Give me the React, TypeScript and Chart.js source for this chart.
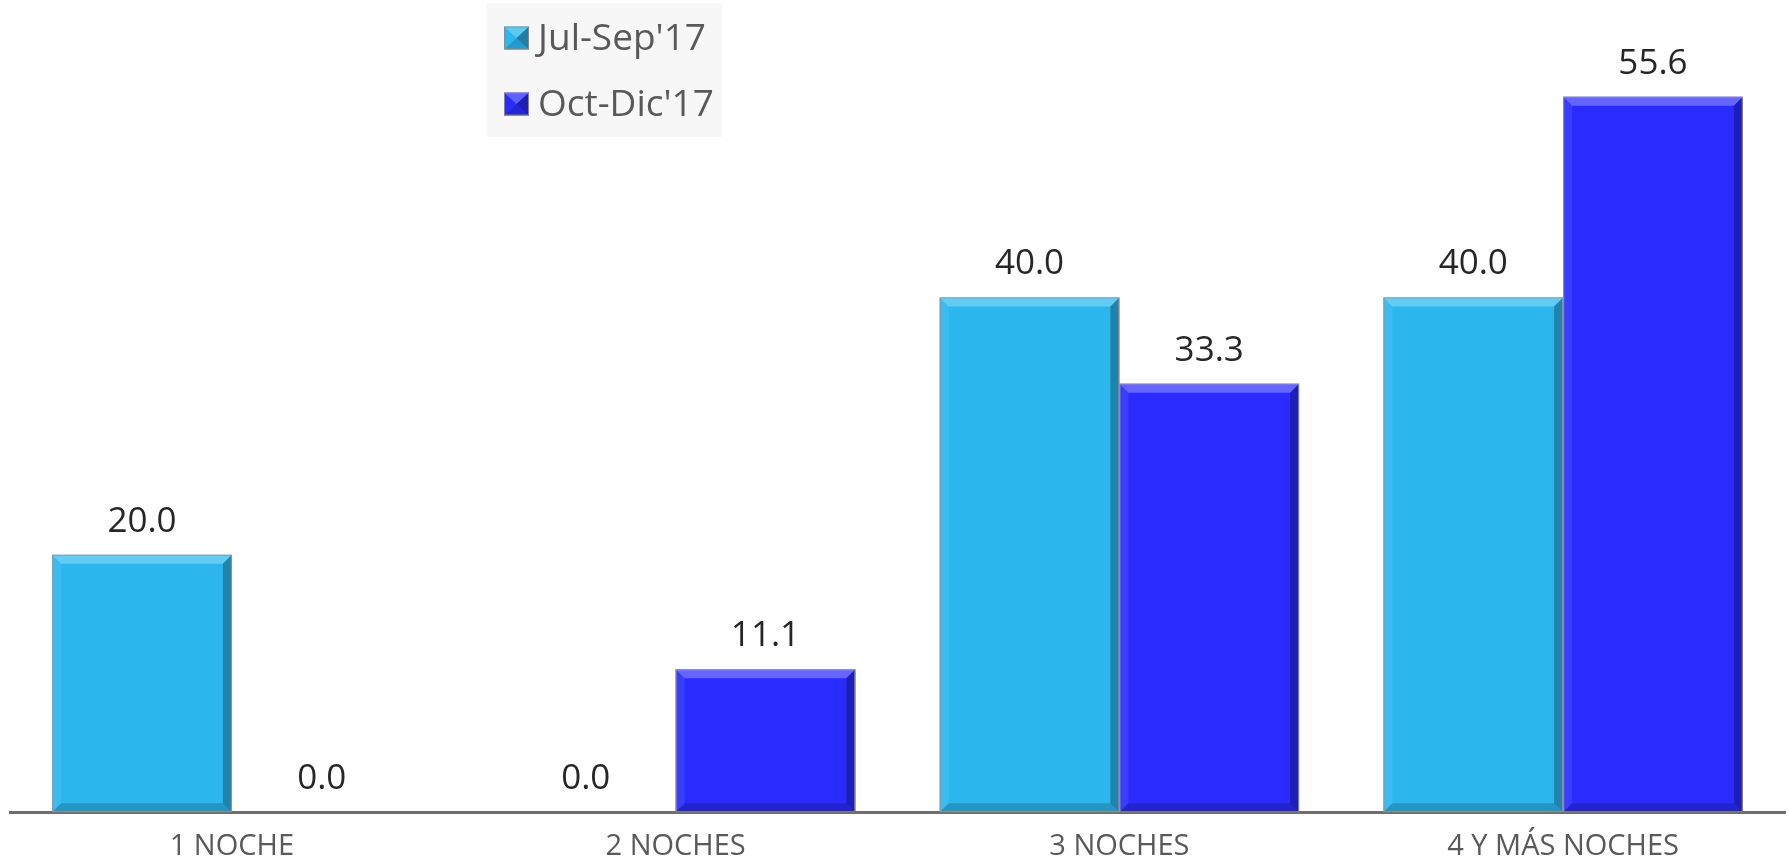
import React, { useEffect, useRef } from "react";
import { Chart, registerables } from "chart.js";

Chart.register(...registerables);

const categories = ["1 NOCHE", "2 NOCHES", "3 NOCHES", "4 Y MÁS NOCHES"];
const seriesNames = ["Jul-Sep'17", "Oct-Dic'17"];
const julSep = [20.0, 0.0, 40.0, 40.0];
const octDic = [0.0, 11.1, 33.3, 55.6];
const seriesColors = ["#2bb7ee", "#2a2cff"];

const FONT = "'Open Sans', 'DejaVu Sans', sans-serif";

function drawBevel(ctx: CanvasRenderingContext2D, l: number, t: number, r: number, b: number, bv: number) {
  const w = r - l;
  const h = b - t;
  const e = Math.min(bv, w / 3, h / 3);
  if (e <= 0.5) return;
  ctx.fillStyle = "rgba(255,255,255,0.28)";
  ctx.beginPath();
  ctx.moveTo(l, t); ctx.lineTo(r, t); ctx.lineTo(r - e, t + e); ctx.lineTo(l + e, t + e); ctx.closePath(); ctx.fill();
  ctx.fillStyle = "rgba(255,255,255,0.08)";
  ctx.beginPath();
  ctx.moveTo(l, t); ctx.lineTo(l + e, t + e); ctx.lineTo(l + e, b - e); ctx.lineTo(l, b); ctx.closePath(); ctx.fill();
  ctx.fillStyle = "rgba(0,0,0,0.28)";
  ctx.beginPath();
  ctx.moveTo(r, t); ctx.lineTo(r, b); ctx.lineTo(r - e, b - e); ctx.lineTo(r - e, t + e); ctx.closePath(); ctx.fill();
  ctx.fillStyle = "rgba(0,0,0,0.18)";
  ctx.beginPath();
  ctx.moveTo(l, b); ctx.lineTo(r, b); ctx.lineTo(r - e, b - e); ctx.lineTo(l + e, b - e); ctx.closePath(); ctx.fill();
  ctx.strokeStyle = "rgba(150,150,150,0.8)";
  ctx.lineWidth = 1.2;
  ctx.strokeRect(l + 0.5, t + 0.5, w - 1, h - 1);
}

const bevelPlugin = {
  id: "bevel",
  afterDatasetsDraw(chart: any) {
    const ctx = chart.ctx as CanvasRenderingContext2D;
    ctx.save();
    chart.data.datasets.forEach((_: any, di: number) => {
      const meta = chart.getDatasetMeta(di);
      meta.data.forEach((el: any) => {
        const l = el.x - el.width / 2;
        const r = el.x + el.width / 2;
        const t = Math.min(el.y, el.base);
        const b = Math.max(el.y, el.base);
        if (b - t > 2) drawBevel(ctx, l, t, r, b, 9);
      });
    });
    ctx.restore();
  },
};

const labelPlugin = {
  id: "valueLabels",
  afterDatasetsDraw(chart: any) {
    const ctx = chart.ctx as CanvasRenderingContext2D;
    ctx.save();
    ctx.font = `35px ${FONT}`;
    ctx.fillStyle = "#262626";
    ctx.textAlign = "center";
    ctx.textBaseline = "middle";
    chart.data.datasets.forEach((ds: any, di: number) => {
      const meta = chart.getDatasetMeta(di);
      meta.data.forEach((el: any, i: number) => {
        const v = ds.data[i] as number;
        ctx.fillText(v.toFixed(1), el.x, el.y - 33);
      });
    });
    ctx.restore();
  },
};

const legendPlugin = {
  id: "boxLegend",
  afterDraw(chart: any) {
    const ctx = chart.ctx as CanvasRenderingContext2D;
    ctx.save();
    const bx = 487, by = 3, bw = 235, bh = 134;
    ctx.fillStyle = "#f7f7f7";
    ctx.fillRect(bx, by, bw, bh);
    const rows = [39, 105];
    chart.data.datasets.forEach((ds: any, i: number) => {
      const cy = rows[i];
      const mx = 504, ms = 25;
      ctx.fillStyle = ds.backgroundColor;
      ctx.fillRect(mx, cy - ms / 2, ms, ms - 2);
      const l = mx, t = cy - ms / 2, r = mx + ms, b = cy + ms / 2 - 2;
      const cx = (l + r) / 2, cyy = (t + b) / 2;
      ctx.fillStyle = "rgba(255,255,255,0.25)";
      ctx.beginPath(); ctx.moveTo(l, t); ctx.lineTo(r, t); ctx.lineTo(cx, cyy); ctx.closePath(); ctx.fill();
      ctx.fillStyle = "rgba(0,0,0,0.3)";
      ctx.beginPath(); ctx.moveTo(r, t); ctx.lineTo(r, b); ctx.lineTo(cx, cyy); ctx.closePath(); ctx.fill();
      ctx.fillStyle = "rgba(0,0,0,0.15)";
      ctx.beginPath(); ctx.moveTo(l, b); ctx.lineTo(r, b); ctx.lineTo(cx, cyy); ctx.closePath(); ctx.fill();
      ctx.strokeStyle = "rgba(140,140,140,0.9)";
      ctx.lineWidth = 1;
      ctx.strokeRect(l + 0.5, t + 0.5, ms - 1, ms - 3);
      ctx.font = `37px ${FONT}`;
      ctx.fillStyle = "#595959";
      ctx.textAlign = "left";
      ctx.textBaseline = "middle";
      ctx.fillText(ds.label, 538, cy);
    });
    ctx.restore();
  },
};

export default function App() {
  const ref = useRef<HTMLCanvasElement | null>(null);
  useEffect(() => {
    if (!ref.current) return;
    const chart = new Chart(ref.current, {
      type: "bar",
      data: {
        labels: categories,
        datasets: [
          { label: seriesNames[0], data: julSep, backgroundColor: seriesColors[0], borderWidth: 0 },
          { label: seriesNames[1], data: octDic, backgroundColor: seriesColors[1], borderWidth: 0 },
        ],
      },
      options: {
        animation: false,
        responsive: false,
        maintainAspectRatio: false,
        layout: { padding: { top: 40, left: 10, right: 4, bottom: -17 } },
        datasets: { bar: { categoryPercentage: 0.81, barPercentage: 1.0 } },
        plugins: { legend: { display: false }, tooltip: { enabled: false } },
        scales: {
          x: {
            grid: { display: false, drawTicks: false },
            border: { display: true, color: "#6e6e6e", width: 3 },
            ticks: { color: "#595959", font: { family: FONT, size: 29 }, padding: 17 },
          },
          y: { display: false, min: 0, max: 60 },
        },
      },
      plugins: [bevelPlugin, labelPlugin, legendPlugin],
    });
    return () => chart.destroy();
  }, []);
  return (
    <div style={{ position: "fixed", left: 0, top: 0, width: 1789, height: 864, background: "#fff" }}>
      <canvas ref={ref} width={1789} height={864} style={{ width: 1789, height: 864 }} />
    </div>
  );
}
